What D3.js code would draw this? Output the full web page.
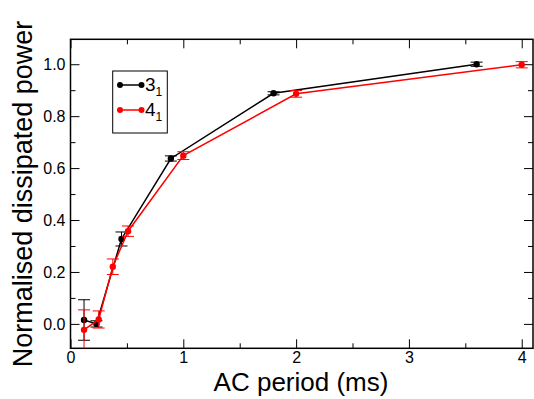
<!DOCTYPE html>
<html><head><meta charset="utf-8">
<script src="https://cdn.jsdelivr.net/npm/d3@7"></script>
<style>body{margin:0;background:#fff}svg{display:block}text{font-family:"Liberation Sans",Arial,sans-serif}</style>
</head><body><svg id="c" width="534" height="399"></svg>
<script>
const xMajor = [0, 1, 2, 3, 4];
const xMinor = [0.5, 1.5, 2.5, 3.5];
const yMajor = [0, 0.2, 0.4, 0.6, 0.8, 1.0];
const yMinor = [0.1, 0.3, 0.5, 0.7, 0.9];
const seriesNames = ["3", "4"];
const blackX = [0.12, 0.23, 0.452, 0.89, 1.8, 3.6];
const blackY = [0.015, 0.0, 0.327, 0.637, 0.888, 1.0];
const blackErr = [0.078, 0.012, 0.027, 0.01, 0.006, 0.008];
const redX = [0.12, 0.25, 0.375, 0.51, 1.0, 2.0, 4.0];
const redY = [-0.023, 0.017, 0.22, 0.357, 0.648, 0.886, 0.998];
const redErr = [0.077, 0.033, 0.03, 0.02, 0.015, 0.013, 0.012];

const svg = d3.select("#c");
const L = 70.5, R = 533, T = 39.3, B = 348.3;
const x = d3.scaleLinear().domain([0, 4.1]).range([L, R]);
const y = d3.scaleLinear().domain([-0.094, 1.096]).range([B, T]);

svg.append("defs").append("clipPath").attr("id","clip")
  .append("rect").attr("x",L).attr("y",T).attr("width",R-L).attr("height",B-T);

const ax = svg.append("g");
ax.append("g").attr("transform",`translate(0,${B})`)
  .call(d3.axisBottom(x).tickValues(xMajor).tickSize(-9).tickPadding(3).tickFormat(d3.format("d")));
ax.append("g").attr("transform",`translate(0,${B})`)
  .call(d3.axisBottom(x).tickValues(xMinor).tickSize(-5).tickFormat(""));
ax.append("g").attr("transform",`translate(0,${T})`)
  .call(d3.axisTop(x).tickValues(xMajor).tickSize(-9).tickFormat(""));
ax.append("g").attr("transform",`translate(0,${T})`)
  .call(d3.axisTop(x).tickValues(xMinor).tickSize(-5).tickFormat(""));
ax.append("g").attr("transform",`translate(${L},0)`)
  .call(d3.axisLeft(y).tickValues(yMajor).tickSize(-9).tickPadding(5).tickFormat(d3.format(".1f")));
ax.append("g").attr("transform",`translate(${L},0)`)
  .call(d3.axisLeft(y).tickValues(yMinor).tickSize(-5).tickFormat(""));
ax.append("g").attr("transform",`translate(${R},0)`)
  .call(d3.axisRight(y).tickValues(yMajor).tickSize(-9).tickFormat(""));
ax.append("g").attr("transform",`translate(${R},0)`)
  .call(d3.axisRight(y).tickValues(yMinor).tickSize(-5).tickFormat(""));
ax.selectAll(".domain").remove();
ax.selectAll("line").attr("stroke","#000").attr("stroke-width",1);
ax.selectAll("text").attr("font-size",16).attr("fill","#000").style("font-family","Liberation Sans, Arial, sans-serif");
svg.append("rect").attr("x",L).attr("y",T).attr("width",R-L).attr("height",B-T)
  .attr("fill","none").attr("stroke","#000").attr("stroke-width",1.5);

function drawSeries(xs, ys, es, color) {
  const g = svg.append("g").attr("clip-path","url(#clip)");
  const data = xs.map((d,i)=>({x:d,y:ys[i],e:es[i]}));
  g.append("path").datum(data)
    .attr("d", d3.line().x(d=>x(d.x)).y(d=>y(d.y)))
    .attr("fill","none").attr("stroke",color).attr("stroke-width",1.5);
  const eb = g.selectAll(null).data(data).enter().append("g");
  eb.append("line").attr("x1",d=>x(d.x)).attr("x2",d=>x(d.x))
    .attr("y1",d=>y(d.y-d.e)).attr("y2",d=>y(d.y+d.e)).attr("stroke",color).attr("stroke-width",1);
  eb.append("line").attr("x1",d=>x(d.x)-6).attr("x2",d=>x(d.x)+6)
    .attr("y1",d=>y(d.y-d.e)).attr("y2",d=>y(d.y-d.e)).attr("stroke",color).attr("stroke-width",1);
  eb.append("line").attr("x1",d=>x(d.x)-6).attr("x2",d=>x(d.x)+6)
    .attr("y1",d=>y(d.y+d.e)).attr("y2",d=>y(d.y+d.e)).attr("stroke",color).attr("stroke-width",1);
  g.selectAll(null).data(data).enter().append("circle")
    .attr("cx",d=>x(d.x)).attr("cy",d=>y(d.y)).attr("r",3.2).attr("fill",color);
}
drawSeries(blackX, blackY, blackErr, "#000");
drawSeries(redX, redY, redErr, "#ff0000");

const lg = svg.append("g");
lg.append("rect").attr("x",112.7).attr("y",71).attr("width",54.6).attr("height",62)
  .attr("fill","#fff").attr("stroke","#000").attr("stroke-width",1);
const colors = ["#000","#ff0000"];
seriesNames.forEach((n,i)=>{
  const yy = 85 + i*25;
  lg.append("line").attr("x1",120).attr("x2",141.5).attr("y1",yy).attr("y2",yy).attr("stroke",colors[i]).attr("stroke-width",1.5);
  lg.append("circle").attr("cx",120).attr("cy",yy).attr("r",3).attr("fill",colors[i]);
  lg.append("circle").attr("cx",141.5).attr("cy",yy).attr("r",3).attr("fill",colors[i]);
  const t = lg.append("text").attr("x",145).attr("y",yy+6).attr("font-size",19).attr("fill","#000");
  t.append("tspan").text(n);
  t.append("tspan").attr("font-size",12).attr("dy",5).text("1");
});

svg.append("text").attr("x",301).attr("y",391).attr("text-anchor","middle").attr("font-size",26).attr("fill","#000").text("AC period (ms)");
svg.append("text").attr("transform","translate(32,194) rotate(-90)").attr("text-anchor","middle").attr("font-size",27).attr("fill","#000").text("Normalised dissipated power");
</script></body></html>
